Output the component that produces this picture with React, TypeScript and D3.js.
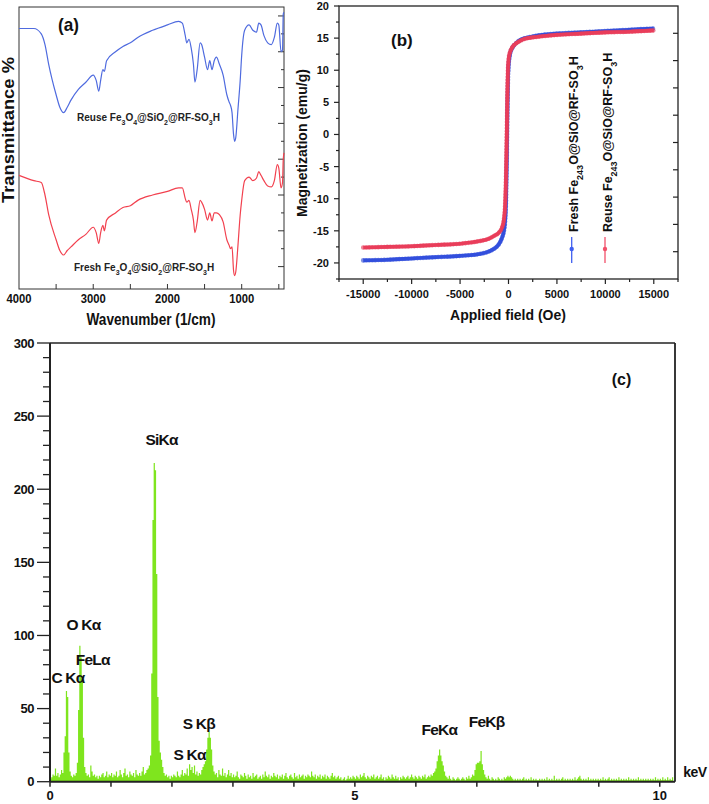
import React from 'react';
import * as d3 from 'd3';

// ---------- Panel (a) FTIR ----------
const ftirWavenumber = [4000,3800,3700,3650,3600,3500,3450,3400,3350,3300,3200,3100,3000,2960,2925,2900,2870,2850,2820,2700,2600,2500,2400,2200,2000,1850,1800,1760,1740,1710,1680,1650,1630,1600,1560,1540,1500,1460,1430,1400,1370,1340,1300,1250,1200,1170,1150,1130,1110,1095,1080,1050,1020,1000,960,900,850,800,770,740,700,650,600,560,520,500,470,450,440,430];
const ftirReuse = [143,143,140,134,123,106,99,96,99,103,109,113,117,114,108,114,120,119,125,130,133,135,138,142,145,147,146,139,135,137,132,123,113,120,135,134,127,120,125,120,125,127,123,117,106,102,100,96,84,80,82,98,114,128,142,145,142,141,146,145,139,135,134,138,146,145,130,131,151,152];
const ftirFresh = [61,58,57,50,39,25,19,16.5,19,21,25,28,32,29,23,29,33,30,36,40,43,44,47,50,52,54,54,48,46,47,42,36,29,35,47,46,42,36,40,35.5,40,40,39,35,25,22,20,21,8,5,7,22,39,47,58,60,58,59.5,63,61,58,55,54.5,58,67,65,54,57,70,73.5];
const ftirXTicks = [4000, 3000, 2000, 1000];

// ---------- Panel (b) VSM ----------
const vsmField = [-15000,-12500,-10000,-7500,-5000,-3000,-2000,-1500,-1000,-700,-500,-350,-250,-180,-120,-60,0,100,200,400,700,1000,1500,2000,3000,5000,7500,10000,12500,15000];
const vsmFresh = [-19.6,-19.5,-19.3,-19.1,-18.9,-18.6,-18.2,-17.8,-17.1,-16.2,-15.2,-13.5,-10,-4,3,8,10.5,12,12.8,13.5,14.1,14.5,14.9,15.1,15.4,15.7,15.9,16.1,16.3,16.5];
const vsmReuse = [-17.6,-17.5,-17.4,-17.2,-17.0,-16.6,-16.2,-15.8,-15.3,-14.6,-13.5,-11,-6,0,6,10,11.5,12.5,13,13.6,14.1,14.4,14.8,15.0,15.2,15.5,15.7,15.9,16.0,16.2];
const vsmXTicks = [-15000, -10000, -5000, 0, 5000, 10000, 15000];
const vsmYTicks = [-20, -15, -10, -5, 0, 5, 10, 15, 20];

// ---------- Panel (c) EDS ----------
const edsStep = 0.02; // keV per channel
const edsCounts = [
  2,3,5,4,9,4,6,3,5,8, 6,20,31,62,58,20,7,4,3,5, 4,6,13,49,93,85,70,30,10,6, 4,5,3,11,7,4,5,3,4,2, 4,3,5,6,3,4,7,3,5,4,
  6,3,5,4,7,3,4,8,5,3, 6,9,4,5,3,7,5,4,6,3, 8,5,4,6,4,7,10,5,6,8, 9,11,18,74,179,218,213,142,58,28, 20,15,10,6,4,5,3,4,2,4,
  3,5,4,3,7,4,3,5,8,4, 6,5,9,4,12,8,10,6,11,5, 7,4,6,5,8,10,12,14,22,30, 34,30,22,11,7,5,6,3,8,5, 4,9,4,6,3,5,8,4,6,3,
  5,3,4,7,3,2,5,4,3,6, 4,2,5,3,4,2,6,3,4,5, 2,3,4,2,5,3,7,4,3,5, 2,4,3,6,4,3,5,2,4,3, 5,2,4,6,3,2,4,5,3,2,
  6,3,4,2,5,3,4,5,2,4, 3,5,4,3,7,4,3,5,2,4, 3,5,2,4,3,5,2,4,3,2, 4,6,3,4,2,3,4,2,3,1, 2,3,1,2,4,2,3,2,4,3,
  2,4,3,2,5,3,4,6,3,2, 4,3,2,4,3,5,2,3,4,2, 3,5,2,3,1,3,2,4,3,2, 5,3,2,4,2,3,1,3,2,4, 3,2,3,4,2,3,5,3,2,4,
  3,2,4,3,2,4,3,5,2,3, 4,3,5,4,6,7,9,14,18,22, 18,14,11,7,4,3,2,4,2,1, 3,2,1,2,3,2,1,2,3,2, 1,3,2,4,2,3,5,4,8,12,
  13,13,14,21,12,8,5,3,2,4, 2,1,3,2,1,2,1,3,2,1, 2,1,3,2,3,4,3,4,3,2, 1,2,1,2,1,2,1,2,3,1, 2,1,2,1,3,1,2,1,2,1,
  1,2,1,2,1,2,1,3,1,2, 1,2,1,4,1,2,1,2,1,2, 3,1,2,1,2,1,2,1,2,1, 3,1,2,3,4,2,1,2,1,2, 1,3,1,2,1,2,1,2,1,2,
  1,2,1,3,1,2,1,2,3,1, 2,1,2,1,2,1,3,1,2,1, 2,1,2,1,3,1,2,1,2,1, 2,1,3,1,2,1,2,1,2,1, 2,1,2,1,2,1,3,1,2,1,
  2,1,3,1,2,1,3,1,2,1,3
];
const edsLabelText = ['C Kα', 'O Kα', 'FeLα', 'SiKα', 'S Kα', 'S Kβ', 'FeKα', 'FeKβ'];
const edsLabelKeV = [0.295, 0.55, 0.70, 1.83, 2.29, 2.44, 6.385, 7.16];
const edsLabelCounts = [67.5, 103.7, 79.8, 230, 14.8, 36, 31.9, 37.4];
const edsXTicks = [0, 5, 10];
const edsYTicks = [0, 50, 100, 150, 200, 250, 300];

const FONT = "'Liberation Sans', Arial, sans-serif";
const BLUE_A = '#4f6bdf';
const RED_A = '#f2414f';
const BLUE_B = '#3f5ff0';
const RED_B = '#f2506a';
const GREEN = '#7fe51e';

export default function App() {
  // ---- scales (a)
  const aX = d3.scaleLinear().domain([4000, 430]).range([19, 284]);
  const aY = d3.scaleLinear().domain([-2.5, 155]).range([289, 7]);
  const aLine = (vals: number[]) =>
    d3.line<number>().x((_, i) => aX(ftirWavenumber[i])).y((v) => aY(v)).curve(d3.curveMonotoneX)(vals) || '';

  // ---- scales (b)
  const bX = d3.scaleLinear().domain([-17500, 17500]).range([339, 678]);
  const bY = d3.scaleLinear().domain([-22.5, 20]).range([279, 6]);
  const bYRight = d3.scaleLinear().domain([0, 10]).range([279, 6]);
  const bLine = (vals: number[]) =>
    d3.line<number>().x((_, i) => bX(vsmField[i])).y((v) => bY(v)).curve(d3.curveMonotoneX)(vals) || '';

  // ---- scales (c)
  const cX = d3.scaleLinear().domain([0, 10.25]).range([50, 675]);
  const cY = d3.scaleLinear().domain([0, 300]).range([781.7, 343]);
  const edsPts = edsCounts.map((v, i) => [i * edsStep, v] as [number, number]);
  edsPts.push([edsCounts.length * edsStep, 0]);
  const edsArea = d3.area<[number, number]>()
    .x((d) => cX(d[0]))
    .y0(cY(0))
    .y1((d) => cY(d[1]))
    .curve(d3.curveStepAfter)(edsPts) || '';

  const sub = (t: string, fs: number) => (
    <tspan baselineShift="sub" fontSize={fs}>{t}</tspan>
  );

  return (
    <svg width={709} height={804} style={{ position: 'absolute', left: 0, top: 0, background: '#fff' }} fontFamily={FONT}>
      <rect x={0} y={0} width={709} height={804} fill="#fff" />

      {/* ================= Panel (a) ================= */}
      <g>
        <rect x={aX(4000)} y={aY(155)} width={aX(430) - aX(4000)} height={aY(-2.5) - aY(155)} fill="none" stroke="#333" strokeWidth={1} />
        {d3.range(3500, 430, -500).map((t) => (
          <line key={'ab' + t} x1={aX(t)} x2={aX(t)} y1={aY(-2.5)} y2={aY(-2.5) - 5} stroke="#333" />
        ))}
        {d3.range(10, 151, 10).map((t) => (
          <line key={'ar' + t} x1={aX(430)} x2={aX(430) - (t % 20 === 10 ? 6 : 3)} y1={aY(t)} y2={aY(t)} stroke="#333" />
        ))}
        <path d={aLine(ftirReuse)} fill="none" stroke={BLUE_A} strokeWidth={1.2} />
        <path d={aLine(ftirFresh)} fill="none" stroke={RED_A} strokeWidth={1.2} />
        {ftirXTicks.map((t) => (
          <text key={'axl' + t} x={aX(t)} y={303} textAnchor="middle" fontSize={13.5} fontWeight="bold" textLength={25} lengthAdjust="spacingAndGlyphs" fill="#111">{t}</text>
        ))}
        <text x={151} y={325} textAnchor="middle" fontSize={16} fontWeight="bold" textLength={129} lengthAdjust="spacingAndGlyphs" fill="#111">Wavenumber (1/cm)</text>
        <text transform="translate(13.5,130) rotate(-90)" textAnchor="middle" fontSize={16.5} fontWeight="bold" textLength={146} lengthAdjust="spacingAndGlyphs" fill="#111">Transmittance %</text>
        <text x={58} y={31} fontSize={19} fontWeight="bold" textLength={21} lengthAdjust="spacingAndGlyphs" fill="#111">(a)</text>
        <text x={77} y={121} fontSize={10} fontWeight="bold" fill="#222">
          Reuse Fe{sub('3', 7)}O{sub('4', 7)}@SiO{sub('2', 7)}@RF-SO{sub('3', 7)}H
        </text>
        <text x={74} y={271} fontSize={10} fontWeight="bold" fill="#222">
          Fresh Fe{sub('3', 7)}O{sub('4', 7)}@SiO{sub('2', 7)}@RF-SO{sub('3', 7)}H
        </text>
      </g>

      {/* ================= Panel (b) ================= */}
      <g>
        <rect x={bX(-17500)} y={bY(20)} width={bX(17500) - bX(-17500)} height={bY(-22.5) - bY(20)} fill="none" stroke="#222" strokeWidth={1.3} />
        {d3.range(-22.5, 20.01, 2.5).map((t) => (
          <line key={'bl' + t} x1={bX(-17500)} x2={bX(-17500) - (t % 5 === 0 ? 5 : 3)} y1={bY(t)} y2={bY(t)} stroke="#222" strokeWidth={1.2} />
        ))}
        {d3.range(-17500, 17501, 2500).map((t) => (
          <line key={'bb' + t} x1={bX(t)} x2={bX(t)} y1={bY(-22.5)} y2={bY(-22.5) + (t % 5000 === 0 ? 5 : 3)} stroke="#222" strokeWidth={1.2} />
        ))}
        {d3.range(1, 10).map((t) => (
          <line key={'br' + t} x1={bX(17500)} x2={bX(17500) - 5} y1={bYRight(t)} y2={bYRight(t)} stroke="#222" strokeWidth={1.2} />
        ))}
        <path d={bLine(vsmFresh)} fill="none" stroke={BLUE_B} strokeWidth={3.6} strokeLinejoin="round" />
        <path d={bLine(vsmFresh)} fill="none" stroke="#2a45d0" strokeWidth={4.6} strokeDasharray="0.01 3" strokeLinecap="round" opacity={0.6} />
        <path d={bLine(vsmReuse)} fill="none" stroke={RED_B} strokeWidth={3.6} strokeLinejoin="round" />
        <path d={bLine(vsmReuse)} fill="none" stroke="#e23050" strokeWidth={4.6} strokeDasharray="0.01 3" strokeLinecap="round" opacity={0.6} />
        {vsmYTicks.map((t) => (
          <text key={'byl' + t} x={329} y={bY(t)} dy="0.36em" textAnchor="end" fontSize={11} fontWeight="bold" fill="#111">{t}</text>
        ))}
        {vsmXTicks.map((t) => (
          <text key={'bxl' + t} x={bX(t)} y={298} textAnchor="middle" fontSize={11} fontWeight="bold" fill="#111">{t}</text>
        ))}
        <text x={508} y={320} textAnchor="middle" fontSize={14} fontWeight="bold" fill="#111">Applied field (Oe)</text>
        <text transform="translate(307,143) rotate(-90)" textAnchor="middle" fontSize={14} fontWeight="bold" fill="#111">Magnetization (emu/g)</text>
        <text x={391} y={46} fontSize={17} fontWeight="bold" fill="#111">(b)</text>
        {/* legend */}
        <line x1={571.7} x2={571.7} y1={237} y2={263} stroke={BLUE_B} strokeWidth={1.3} />
        <circle cx={571.7} cy={249} r={2.2} fill={BLUE_B} />
        <line x1={605} x2={605} y1={237} y2={263} stroke={RED_B} strokeWidth={1.3} />
        <circle cx={605} cy={249} r={2.2} fill={RED_B} />
        <text transform="translate(578,232) rotate(-90)" fontSize={12.5} fontWeight="bold" fill="#111">
          Fresh Fe{sub('243', 9)}O@SiO@RF-SO{sub('3', 9)}H
        </text>
        <text transform="translate(611.5,232) rotate(-90)" fontSize={12.5} fontWeight="bold" fill="#111">
          Reuse Fe{sub('243', 9)}O@SiO@RF-SO{sub('3', 9)}H
        </text>
      </g>

      {/* ================= Panel (c) ================= */}
      <g>
        <path d={edsArea} fill={GREEN} stroke="none" />
        <line x1={cX(0)} x2={cX(10.25)} y1={cY(300)} y2={cY(300)} stroke="#222" strokeWidth={1.5} />
        <line x1={cX(10.25)} x2={cX(10.25)} y1={cY(300)} y2={cY(0)} stroke="#222" strokeWidth={1.8} />
        <line x1={cX(0)} x2={cX(0)} y1={cY(300)} y2={cY(0)} stroke="#222" strokeWidth={2} />
        <line x1={cX(0)} x2={cX(10.25)} y1={cY(0)} y2={cY(0)} stroke="#222" strokeWidth={2} />
        {d3.range(0, 301, 10).map((t) => (
          <line key={'cl' + t} x1={cX(0)} x2={cX(0) - (t % 50 === 0 ? 13 : 7)} y1={cY(t)} y2={cY(t)} stroke="#222" strokeWidth={1.3} />
        ))}
        {d3.range(0, 10.01, 1).map((t) => (
          <line key={'cb' + t} x1={cX(t)} x2={cX(t)} y1={cY(0)} y2={cY(0) + 5} stroke="#222" strokeWidth={1.5} />
        ))}
        {edsYTicks.map((t) => (
          <text key={'cyl' + t} x={34} y={cY(t)} dy="0.36em" textAnchor="end" fontSize={13} fontWeight="bold" letterSpacing={-0.5} fill="#111">{t}</text>
        ))}
        {edsXTicks.map((t) => (
          <text key={'cxl' + t} x={cX(t)} y={800} textAnchor="middle" fontSize={13} fontWeight="bold" fill="#111">{t}</text>
        ))}
        <text x={695} y={777} textAnchor="middle" fontSize={14} fontWeight="bold" letterSpacing={-0.5} fill="#111">keV</text>
        <text x={621.5} y={385} textAnchor="middle" fontSize={16} fontWeight="bold" fill="#111">(c)</text>
        {edsLabelText.map((t, i) => (
          <text key={'lab' + i} x={cX(edsLabelKeV[i])} y={cY(edsLabelCounts[i])} textAnchor="middle" fontSize={15.5} fontWeight="bold" letterSpacing={-0.8} fill="#111">{t}</text>
        ))}
      </g>
    </svg>
  );
}
